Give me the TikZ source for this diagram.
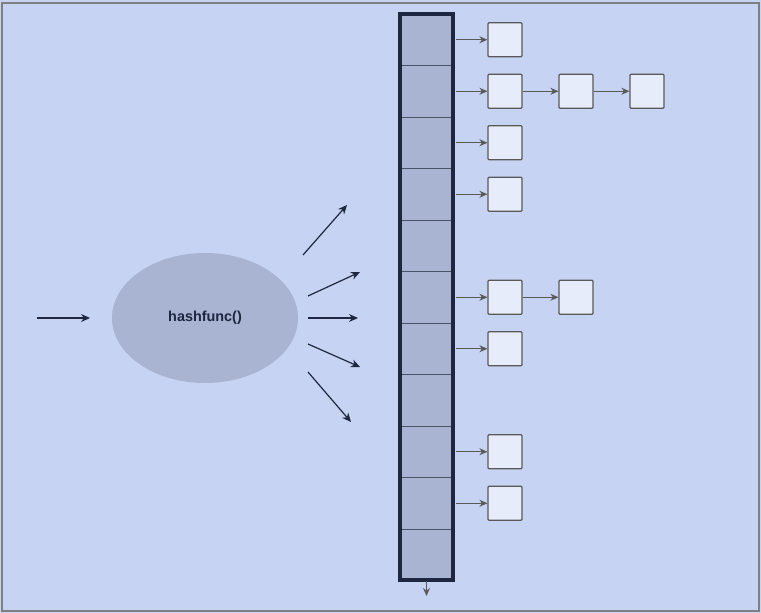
\documentclass[tikz,border=0pt]{standalone}
\usepackage{fontspec}
\setmainfont{Liberation Sans}
\usetikzlibrary{arrows.meta,shapes.geometric}
\definecolor{bg}{HTML}{C6D3F2}
\definecolor{cellc}{HTML}{A9B3D2}
\definecolor{boxc}{HTML}{E6ECFA}
\definecolor{navy}{HTML}{1E2740}
\begin{document}
\begin{tikzpicture}[x=1pt,y=-1pt,
  arr/.style={-{Stealth[length=9pt,width=8pt]},navy,line width=1.2pt},
  sarr/.style={-{Stealth[length=8pt,width=7pt]},gray!70!black,line width=1.1pt},
  cellbox/.style={draw=navy!80,line width=1pt,fill=cellc,minimum width=53pt,minimum height=51.5pt,inner sep=0pt},
  item/.style={draw=gray!70!black,line width=1.2pt,fill=boxc,minimum size=34pt,inner sep=0pt,rounded corners=1pt}]
\fill[bg] (0,0) rectangle (761,613);
\draw[gray,line width=1.5pt] (2,3) rectangle (759,611);
\node[ellipse,fill=cellc,minimum width=186pt,minimum height=130pt,inner sep=0pt,text=navy] (h) at (205,318) {\bfseries\Large hashfunc()};
\coordinate (in) at (37,318);
\coordinate (ine) at (90,318);
\draw[arr] (in) -- (ine);
\coordinate (a1s) at (303,255); \coordinate (a1e) at (347,205);
\coordinate (a2s) at (308,296); \coordinate (a2e) at (360,272);
\coordinate (a3s) at (308,318); \coordinate (a3e) at (358,318);
\coordinate (a4s) at (308,344); \coordinate (a4e) at (360,367);
\coordinate (a5s) at (308,372); \coordinate (a5e) at (351,422);
\foreach \i in {1,...,5} \draw[arr] (a\i s) -- (a\i e);
\foreach \i in {0,...,10} \node[cellbox] (c\i) at (426.5,{14+51.5*\i+25.75}) {};
\draw[navy,line width=4pt] (400,14) rectangle (453,580);
\coordinate (bot) at (426.5,596);
\draw[sarr] (c10.south) -- (bot);
\foreach \i in {0,1,2,3,5,6,8,9} {
  \node[item] (b\i) at (505,{14+51.5*\i+25.75}) {};
  \draw[sarr] (c\i.east) ++(2,0) -- (b\i.west);
}
\node[item] (b1b) at ([xshift=71pt]b1.center) {};
\node[item] (b1c) at ([xshift=71pt]b1b.center) {};
\node[item] (b5b) at ([xshift=71pt]b5.center) {};
\draw[sarr] (b1) -- (b1b);
\draw[sarr] (b1b) -- (b1c);
\draw[sarr] (b5) -- (b5b);
\end{tikzpicture}
\end{document}
